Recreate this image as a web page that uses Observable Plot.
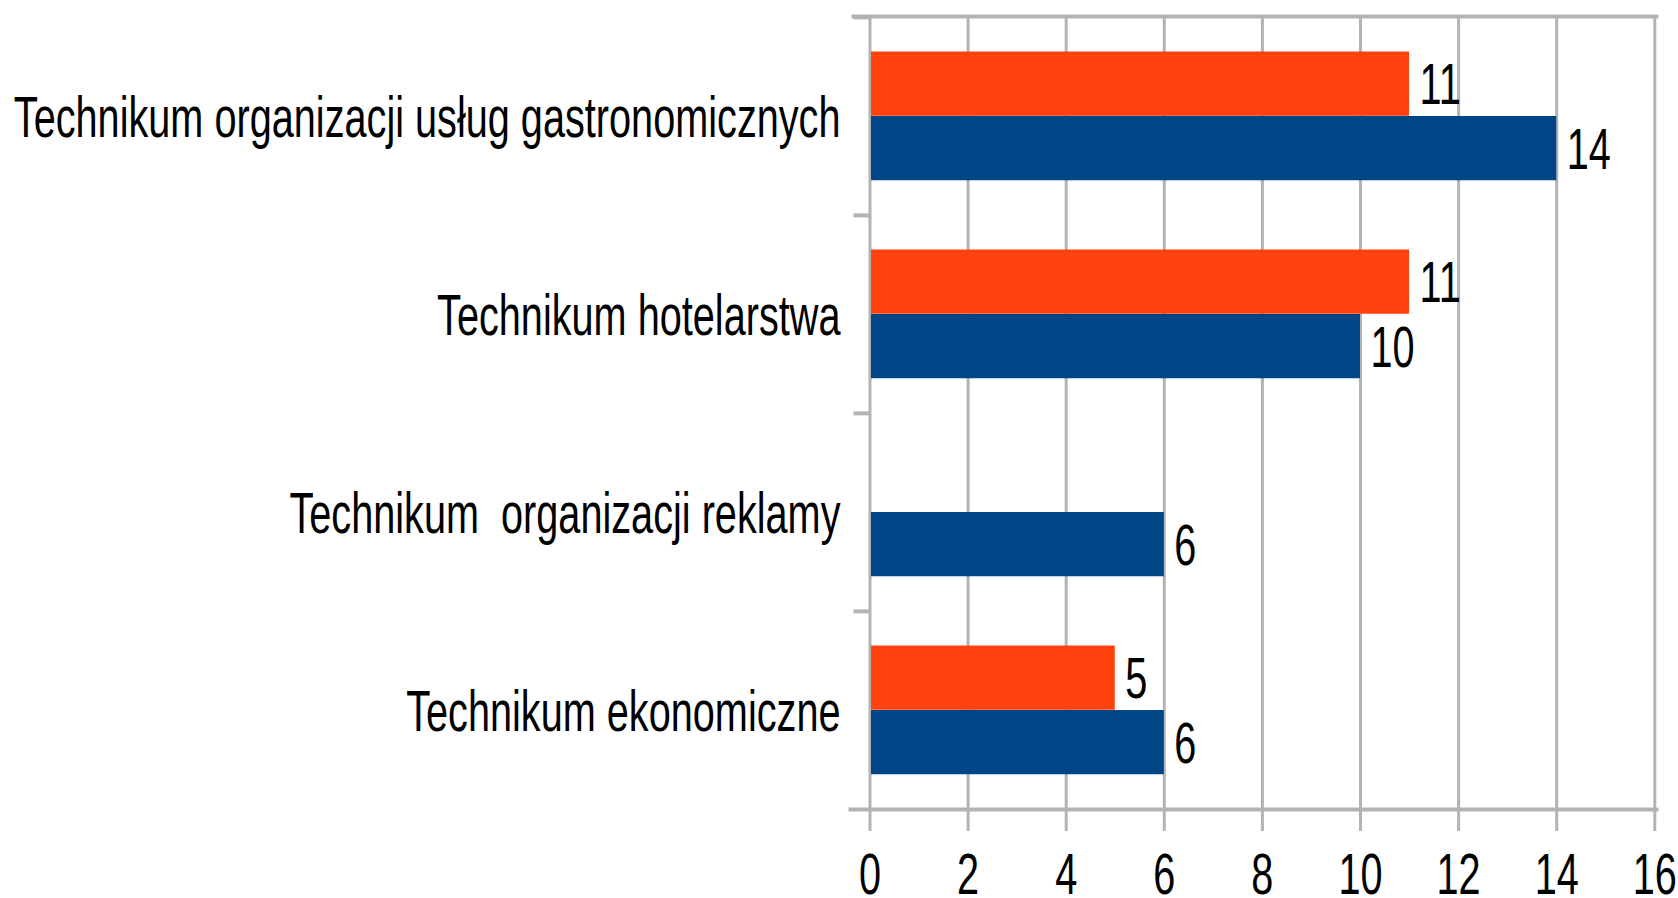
<!DOCTYPE html>
<html>
<head>
<meta charset="utf-8">
<script src="https://cdn.jsdelivr.net/npm/d3@7"></script>
<script src="https://cdn.jsdelivr.net/npm/@observablehq/plot@0.6"></script>
<style>
  html, body { margin: 0; padding: 0; background: #ffffff; }
  svg text { white-space: pre; }
</style>
</head>
<body>
<div id="chart"></div>
<script>
// ---- data ----
const categories = [
  "Technikum organizacji usług gastronomicznych",
  "Technikum hotelarstwa",
  "Technikum  organizacji reklamy",
  "Technikum ekonomiczne"
];
const seriesOrange = [11, 11, null, 5];
const seriesBlue = [14, 10, 6, 6];
const xTicks = [0, 2, 4, 6, 8, 10, 12, 14, 16];

const rows = categories.map((c, i) => ({category: c, orange: seriesOrange[i], blue: seriesBlue[i]}));
const orangeRows = rows.filter(d => d.orange != null);
const blueRows = rows.filter(d => d.blue != null);

const GRAY = "#b3b3b3";
const ORANGE = "#ff420e";
const BLUE = "#004586";
const FS = 57;

const chart = Plot.plot({
  width: 1678,
  height: 898,
  marginLeft: 869.5,
  marginRight: 23.7,
  marginTop: 16,
  marginBottom: 89,
  style: {fontFamily: "'Liberation Sans', Arial, sans-serif", fontSize: FS + "px", color: "#000", background: "#fff"},
  x: {domain: [0, 16], ticks: xTicks},
  y: {type: "band", domain: categories, padding: 0},
  marks: [
    Plot.gridX(xTicks, {stroke: GRAY, strokeWidth: 3, strokeOpacity: 1}),
    Plot.barX(orangeRows, {x: "orange", y: "category", fill: ORANGE, insetTop: 34.5, insetBottom: 99.25, insetLeft: 1.5}),
    Plot.barX(blueRows, {x: "blue", y: "category", fill: BLUE, insetTop: 99, insetBottom: 34.75, insetLeft: 1.5}),
    Plot.text(orangeRows, {x: "orange", y: "category", text: d => String(d.orange), textAnchor: "start", dx: 10, dy: -30.4, fontSize: FS, fill: "#000"}),
    Plot.text(blueRows, {x: "blue", y: "category", text: d => String(d.blue), textAnchor: "start", dx: 10, dy: 34.1, fontSize: FS, fill: "#000"}),
    Plot.frame({anchor: "top", stroke: GRAY, strokeWidth: 4, insetLeft: -16.5, insetRight: -1.7}),
    Plot.frame({anchor: "bottom", stroke: GRAY, strokeWidth: 4, insetLeft: -19.5, insetRight: -1.7}),
    Plot.axisX(xTicks, {tickSize: 22, tickPadding: 22.5, stroke: GRAY, strokeWidth: 3, fontSize: FS, label: null, tickFormat: d => String(d)}),
    Plot.axisY({tickSize: 16, dy: -99.125, stroke: GRAY, strokeWidth: 4, tickFormat: () => "", label: null}),
    Plot.axisY({tickSize: 0, tickPadding: 29.5, dy: 2, fontSize: FS, label: null})
  ]
});

// The reference uses a horizontally condensed rendering of the text.
chart.querySelectorAll("text").forEach(t => {
  const tr = t.getAttribute("transform");
  if (tr) t.setAttribute("transform", tr + " scale(0.696,1)");
  else {
    const x = +(t.getAttribute("x") || 0), y = +(t.getAttribute("y") || 0);
    t.removeAttribute("x"); t.removeAttribute("y");
    t.setAttribute("transform", `translate(${x},${y}) scale(0.696,1)`);
  }
});

document.getElementById("chart").appendChild(chart);
</script>
</body>
</html>
